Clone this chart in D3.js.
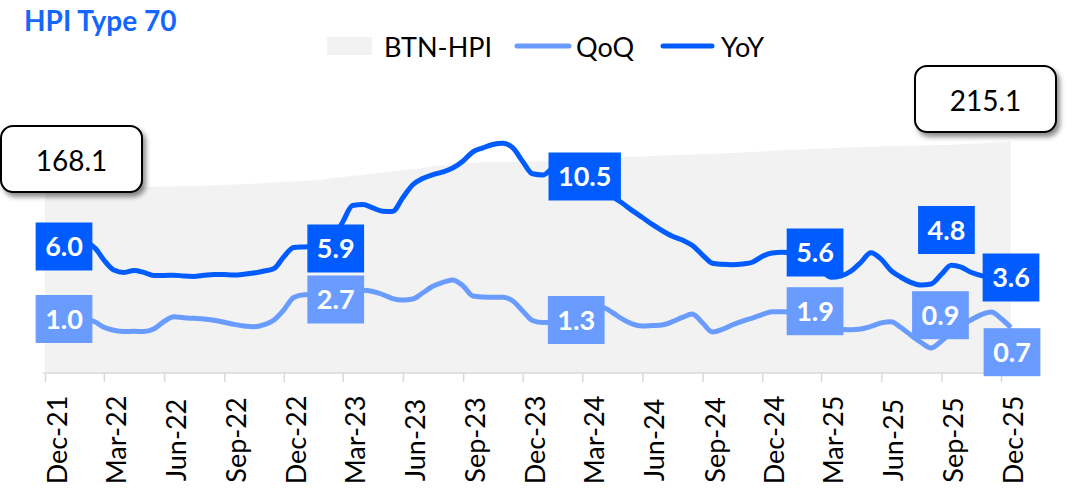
<!DOCTYPE html>
<html>
  <head>
    <script type="text/javascript" src="https://cdn.jsdelivr.net/npm/d3@7"></script>
    <style>
      body {
        margin: 0;
        background: #fff;
      }
      svg text {
        font-family: 'Lato', sans-serif;
      }
      .axis text {
        font-size: 27px;
        fill: #000;
      }
      .axis line {
        stroke: #d9d9d9;
        stroke-width: 1.5;
      }
      .dlabel {
        font-size: 27px;
        font-weight: bold;
        fill: #fff;
      }
    </style>
  </head>
  <body>
    <svg id="chart"></svg>

    <script type="text/javascript">
      // quarter tick labels on the x axis
      var quarters = ['Dec-21', 'Mar-22', 'Jun-22', 'Sep-22', 'Dec-22', 'Mar-23', 'Jun-23', 'Sep-23',
        'Dec-23', 'Mar-24', 'Jun-24', 'Sep-24', 'Dec-24', 'Mar-25', 'Jun-25', 'Sep-25', 'Dec-25'];

      // BTN-HPI index, twice a month (1st and 16th), Dec-21 .. mid Dec-25
      var hpi = [168.1, 168.4, 168.6, 168.9, 169.2, 169.5, 169.7, 170.0, 170.3, 170.6,
        170.9, 171.1, 171.3, 171.5, 171.7, 171.9, 172.2, 172.6, 173.0, 173.4,
        173.7, 174.1, 174.7, 175.3, 175.9, 176.4, 176.8, 177.2, 178.4, 179.6,
        180.7, 181.7, 182.7, 183.8, 184.9, 186.0, 187.2, 188.3, 189.6, 190.9,
        192.0, 193.0, 193.7, 194.2, 194.9, 195.1, 195.3, 195.6, 195.6, 195.6,
        196.0, 197.9, 199.7, 199.8, 199.9, 200.1, 200.2, 200.2, 200.2, 200.3,
        200.7, 201.1, 201.5, 201.9, 202.1, 202.5, 202.8, 203.1, 203.5, 203.9,
        204.4, 205.0, 205.5, 206.0, 206.6, 207.1, 207.5, 207.9, 208.3, 208.7,
        209.2, 209.4, 209.7, 210.0, 210.3, 210.7, 210.9, 211.1, 211.3, 211.5,
        211.8, 212.1, 212.6, 213.1, 213.6, 214.0, 214.4, 215.1];

      var qoq = [1.13, 1.13, 1.1, 1.07, 1.03, 0.87, 0.51, 0.32, 0.23, 0.25,
        0.23, 0.4, 0.9, 1.21, 1.15, 1.11, 1.07, 0.98, 0.85, 0.71,
        0.6, 0.55, 0.69, 1.0, 1.67, 2.5, 2.69, 2.71, 2.73, 2.78,
        2.83, 2.9, 2.98, 2.9, 2.7, 2.43, 2.33, 2.4, 2.8, 3.23,
        3.51, 3.67, 3.27, 2.6, 2.53, 2.51, 2.51, 2.27, 1.6, 0.97,
        0.83, 0.87, 0.89, 0.98, 1.2, 1.53, 1.83, 1.5, 1.07, 0.74,
        0.6, 0.63, 0.67, 0.87, 1.17, 1.4, 0.8, 0.2, 0.37, 0.67,
        0.93, 1.13, 1.36, 1.55, 1.55, 1.53, 1.43, 1.2, 0.77, 0.49,
        0.36, 0.35, 0.4, 0.57, 0.81, 0.89, 0.5, 0.0, -0.5, -0.87,
        -0.4, 0.18, 0.63, 1.0, 1.36, 1.53, 1.1, 0.5];

      var yoy = [6.33, 6.33, 6.33, 6.27, 6.17, 5.77, 5.0, 4.33, 4.17, 4.3,
        4.17, 3.97, 3.97, 3.99, 3.93, 3.9, 3.98, 4.04, 4.03, 4.0,
        4.05, 4.13, 4.27, 4.43, 5.22, 5.83, 5.87, 5.9, 6.07, 6.6,
        7.53, 8.63, 8.7, 8.47, 8.25, 8.23, 9.17, 10.02, 10.43, 10.68,
        10.87, 11.13, 11.6, 12.21, 12.47, 12.7, 12.79, 12.47, 11.57, 10.75,
        10.67, 11.13, 11.37, 11.23, 10.87, 10.31, 9.77, 9.23, 8.8, 8.31,
        7.83, 7.37, 6.96, 6.6, 6.33, 5.98, 5.33, 4.78, 4.71, 4.68,
        4.73, 4.85, 5.24, 5.47, 5.52, 5.47, 5.33, 4.97, 4.37, 3.85,
        3.95, 4.27, 4.85, 5.49, 5.05, 4.29, 3.85, 3.51, 3.33, 3.4,
        4.05, 4.65, 4.52, 4.18, 3.96, 3.83, 3.73, 3.67];

      // data labels shown on the lines
      var yoyLabels = [['Dec-21', 6.0], ['Mar-23', 5.9], ['Mar-24', 10.5], ['Mar-25', 5.6], ['Sep-25', 4.8], ['Dec-25', 3.6]];
      var qoqLabels = [['Dec-21', 1.0], ['Mar-23', 2.7], ['Mar-24', 1.3], ['Mar-25', 1.9], ['Sep-25', 0.9], ['Dec-25', 0.7]];

      var yoyColor = '#005cff';
      var qoqColor = '#6a9cff';
      var areaColor = '#f2f2f2';

      var width = 1081, height = 491;
      var svg = d3.select('#chart').attr('width', width).attr('height', height);

      var parseQ = d3.timeParse('%b-%y');
      var fmtQ = d3.timeFormat('%b-%y');

      // half-month dates for the series
      var months = d3.timeMonth.range(new Date(2021, 11, 1), new Date(2026, 0, 1));
      var dates = [];
      months.forEach(function (m) {
        dates.push(m);
        dates.push(d3.timeDay.offset(m, 15));
      });

      var x = d3.scaleTime()
        .domain([parseQ('Dec-21'), parseQ('Dec-25')])
        .range([45, 1001]);
      var yArea = d3.scaleLinear().domain([-10, 240]).range([373, 116]);
      var yLine = d3.scaleLinear().domain([0, 12]).range([335, 155]);

      // shadow for the callout boxes
      var defs = svg.append('defs');
      defs.append('filter').attr('id', 'shadow')
        .attr('x', '-20%').attr('y', '-20%').attr('width', '140%').attr('height', '150%')
        .append('feDropShadow')
        .attr('dx', 3).attr('dy', 4).attr('stdDeviation', 2.5)
        .attr('flood-color', '#000').attr('flood-opacity', 0.45);

      // BTN-HPI area
      var area = d3.area()
        .x(function (d, i) { return x(dates[i]); })
        .y0(yArea(-10))
        .y1(function (d) { return yArea(d); })
        .curve(d3.curveMonotoneX);
      svg.append('path').datum(hpi)
        .attr('d', area)
        .attr('fill', areaColor);

      // x axis
      var axis = d3.axisBottom(x)
        .tickValues(quarters.map(parseQ))
        .tickFormat(fmtQ)
        .tickSize(9)
        .tickSizeOuter(0);
      var gx = svg.append('g').attr('class', 'axis')
        .attr('transform', 'translate(0,373)')
        .call(axis);
      gx.select('.domain').remove();
      gx.append('line')
        .attr('x1', x(dates[0]) - 2).attr('x2', x(dates[dates.length - 1]) + 1)
        .attr('stroke', '#d9d9d9').attr('stroke-width', 2);
      gx.selectAll('.tick text')
        .attr('transform', 'rotate(-90)')
        .attr('text-anchor', 'middle')
        .attr('x', -67)
        .attr('y', 21.5)
        .attr('dy', 0);

      // lines
      var line = function (vals) {
        return d3.line()
          .x(function (d, i) { return x(dates[i]); })
          .y(function (d) { return yLine(d); })
          .curve(d3.curveMonotoneX)(vals);
      };
      svg.append('path').attr('d', line(qoq))
        .attr('fill', 'none').attr('stroke', qoqColor)
        .attr('stroke-width', 5).attr('stroke-linejoin', 'round');
      svg.append('path').attr('d', line(yoy))
        .attr('fill', 'none').attr('stroke', yoyColor)
        .attr('stroke-width', 5).attr('stroke-linejoin', 'round');

      // hand nudges of the data labels (px), like moved labels in the source
      var nudge = {
        'yoy-Dec-21': [19, 1.5], 'yoy-Mar-23': [-7, 2], 'yoy-Mar-24': [2.5, -1],
        'yoy-Mar-25': [-6, 1.5], 'yoy-Sep-25': [5, -33], 'yoy-Dec-25': [10, -3.5],
        'qoq-Dec-21': [19, -1], 'qoq-Mar-23': [-7, 5], 'qoq-Mar-24': [-6, 4.5],
        'qoq-Mar-25': [-6, 4.7], 'qoq-Sep-25': [-1, -6.3], 'qoq-Dec-25': [11, 27.7]
      };

      function drawLabels(labels, key, color) {
        labels.forEach(function (l) {
          var n = nudge[key + '-' + l[0]];
          var cx = x(parseQ(l[0])) + n[0];
          var cy = yLine(l[1]) + n[1];
          var g = svg.append('g');
          var r = g.append('rect').attr('fill', color);
          var t = g.append('text').attr('class', 'dlabel')
            .attr('x', cx).attr('y', cy + 9.6)
            .attr('text-anchor', 'middle')
            .text(l[1].toFixed(1));
          var w = t.node().getComputedTextLength() + 19;
          r.attr('x', cx - w / 2).attr('y', cy - 24).attr('width', w).attr('height', 48);
        });
      }
      drawLabels(qoqLabels, 'qoq', qoqColor);
      drawLabels(yoyLabels, 'yoy', yoyColor);

      // first / last index callouts
      function callout(bx, by, value) {
        var g = svg.append('g');
        g.append('rect')
          .attr('x', bx).attr('y', by).attr('width', 141).attr('height', 66)
          .attr('rx', 12).attr('ry', 12)
          .attr('fill', '#fff').attr('stroke', '#000').attr('stroke-width', 2)
          .attr('filter', 'url(#shadow)');
        g.append('text')
          .attr('x', bx + 70.5).attr('y', by + 45)
          .attr('text-anchor', 'middle')
          .style('font-size', '28px')
          .text(value.toFixed(1));
      }
      callout(1, 126, hpi[0]);
      callout(915, 66, hpi[hpi.length - 1]);

      // legend
      var leg = svg.append('g').style('font-size', '27px');
      leg.append('rect').attr('x', 327).attr('y', 37).attr('width', 45).attr('height', 18).attr('fill', areaColor);
      leg.append('text').attr('x', 384).attr('y', 57).text('BTN-HPI');
      leg.append('line').attr('x1', 517).attr('x2', 569).attr('y1', 46).attr('y2', 46)
        .attr('stroke', qoqColor).attr('stroke-width', 5).attr('stroke-linecap', 'round');
      leg.append('text').attr('x', 576).attr('y', 57).text('QoQ');
      leg.append('line').attr('x1', 663).attr('x2', 712).attr('y1', 46).attr('y2', 46)
        .attr('stroke', yoyColor).attr('stroke-width', 5).attr('stroke-linecap', 'round');
      leg.append('text').attr('x', 721).attr('y', 57).text('YoY');

      // title
      svg.append('text')
        .attr('x', 24).attr('y', 31)
        .style('font-size', '28px').style('font-weight', 'bold')
        .attr('fill', '#1466ff')
        .text('HPI Type 70');
    </script>
  </body>
</html>
